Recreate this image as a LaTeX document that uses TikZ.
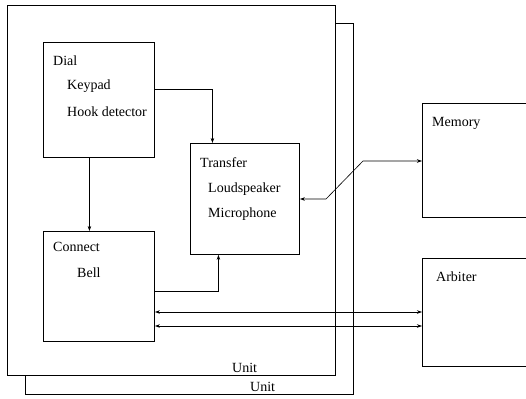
\documentclass[tikz,border=0pt]{standalone}
\usepackage{fontspec}
\setmainfont{Liberation Serif}
\usetikzlibrary{arrows.meta}
\begin{document}
\begin{tikzpicture}[x=1pt,y=-1pt,
  box/.style={draw,line width=0.9pt,fill=white,inner sep=0pt,anchor=north west},
  lbl/.style={anchor=base west,inner sep=0pt,font=\fontsize{14}{16}\selectfont},
  conn/.style={line width=0.6pt,-{Stealth[length=5pt,width=3.5pt]}},
  dconn/.style={line width=0.6pt,{Stealth[length=5pt,width=3.5pt]}-{Stealth[length=5pt,width=3.5pt]}}]
\useasboundingbox (0,0) rectangle (526,398);
\clip (0,0) rectangle (526,398);
% units
\node[box,minimum width=328pt,minimum height=371pt] (unitB) at (25,23) {};
\node[box,minimum width=328pt,minimum height=370pt] (unitA) at (7,5) {};
\node[lbl] (unitAl) at (232,372) {Unit};
\node[lbl] (unitBl) at (250,391) {Unit};
% inner boxes
\node[box,minimum width=111pt,minimum height=115pt] (dial) at (43,42) {};
\node[box,minimum width=109pt,minimum height=111pt] (transfer) at (190,143) {};
\node[box,minimum width=111pt,minimum height=110pt] (connect) at (43,231) {};
\node[box,minimum width=120pt,minimum height=114pt] (memory) at (422,103) {};
\node[box,minimum width=120pt,minimum height=108pt] (arbiter) at (422,258) {};
% labels
\node[lbl] (tdial) at (53,66) {Dial};
\node[lbl] (tkey) at (67,90) {Keypad};
\node[lbl] (thook) at (67,117) {Hook detector};
\node[lbl] (ttrans) at (200,167) {Transfer};
\node[lbl] (tloud) at (208,192) {Loudspeaker};
\node[lbl] (tmic) at (208,217) {Microphone};
\node[lbl] (tconn) at (53,251) {Connect};
\node[lbl] (tbell) at (77,277) {Bell};
\node[lbl] (tmem) at (432,127) {Memory};
\node[lbl] (tarb) at (436,281) {Arbiter};
% connectors
\draw[conn] (dial.east |- 0,89) -| ([xshift=-32.5pt]transfer.north);
\draw[conn] ([xshift=-9.5pt]dial.south) -- ([xshift=-9.5pt]connect.north);
\draw[conn] (connect.east |- 0,291) -| ([xshift=-26.5pt]transfer.south);
\coordinate (k1) at (326,199);
\coordinate (k2) at (363,161);
\draw[dconn] (transfer.east |- 0,199) -- (k1) -- (k2) -- (memory.west |- 0,161);
\draw[dconn] (connect.east |- 0,312) -- (arbiter.west |- 0,312);
\draw[dconn] (connect.east |- 0,326) -- (arbiter.west |- 0,326);
\end{tikzpicture}
\end{document}
